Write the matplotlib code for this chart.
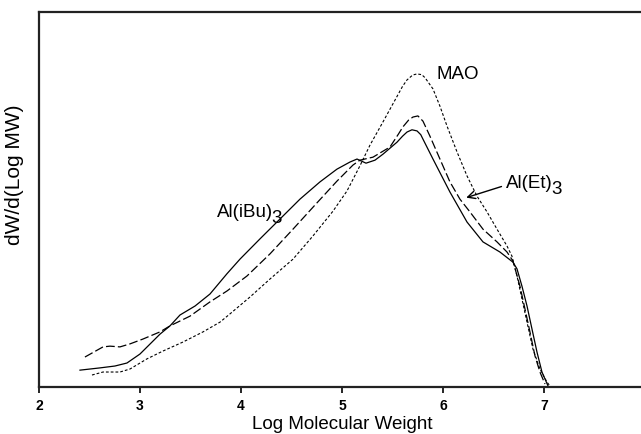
import numpy as np
import matplotlib
matplotlib.use("Agg")
import matplotlib.pyplot as plt

plt.rcParams['font.family'] = ['Liberation Sans', 'DejaVu Sans']

# Al(iBu)3 - solid
ibu_x = [2.406, 2.604, 2.752, 2.871, 3.000, 3.198, 3.297, 3.396, 3.545, 3.693,
         3.861, 3.990, 4.188, 4.386, 4.584, 4.782, 4.950, 5.079, 5.149, 5.238,
         5.327, 5.406, 5.545, 5.600, 5.644, 5.693, 5.743, 5.780, 5.802, 5.901,
         6.069, 6.238, 6.396, 6.564, 6.693, 6.733, 6.782, 6.832, 6.881, 6.931,
         6.980, 7.040]
ibu_y = [4.5, 5.1, 5.6, 6.4, 8.8, 14.1, 16.3, 19.2, 21.6, 24.8,
         30.2, 34.1, 39.5, 44.8, 50.1, 54.7, 58.1, 60.0, 60.8, 59.7,
         60.5, 62.1, 65.3, 66.9, 68.0, 68.6, 68.3, 67.3, 66.1, 60.8,
         52.0, 44.0, 38.7, 36.0, 33.3, 31.5, 26.9, 21.6, 15.5, 9.3,
         4.0, 0.3]

# Al(Et)3 - long dash
et_x = [2.455, 2.634, 2.703, 2.802, 2.901, 3.030, 3.198, 3.297, 3.495, 3.693,
        3.861, 4.059, 4.287, 4.515, 4.752, 4.950, 5.109, 5.178, 5.307, 5.475,
        5.560, 5.604, 5.660, 5.703, 5.752, 5.802, 5.871, 5.970, 6.069, 6.168,
        6.267, 6.396, 6.535, 6.634, 6.693, 6.762, 6.812, 6.861, 6.911, 6.960,
        7.010]
et_y = [8.0, 10.7, 10.9, 10.7, 11.5, 12.8, 14.7, 16.3, 18.9, 22.7,
        25.6, 29.6, 35.5, 42.1, 49.1, 54.9, 59.2, 60.5, 61.3, 64.0,
        67.5, 69.4, 71.2, 72.0, 72.3, 70.9, 66.9, 60.8, 54.7, 50.1,
        46.7, 42.1, 38.7, 36.0, 33.6, 26.9, 20.8, 14.7, 8.3, 4.0,
        0.8]

# MAO - short dash
mao_x = [2.525, 2.634, 2.802, 2.901, 3.069, 3.228, 3.426, 3.624, 3.792, 3.891,
         4.089, 4.287, 4.515, 4.713, 4.911, 5.050, 5.178, 5.277, 5.406, 5.545,
         5.600, 5.644, 5.700, 5.743, 5.790, 5.822, 5.901, 5.970, 6.040, 6.139,
         6.238, 6.337, 6.436, 6.535, 6.634, 6.683, 6.733, 6.782, 6.832, 6.891,
         6.960, 7.030, 7.059]
mao_y = [3.2, 4.0, 4.0, 4.8, 7.5, 9.6, 12.0, 14.7, 17.3, 19.5,
         24.0, 28.8, 34.1, 40.3, 46.9, 52.3, 59.0, 64.5, 70.7, 77.5,
         80.2, 81.9, 83.2, 83.5, 83.3, 82.5, 79.5, 74.9, 69.6, 62.7,
         56.3, 50.9, 46.7, 42.1, 37.6, 34.9, 29.6, 23.5, 17.3, 10.1,
         4.8, 1.3, 0.3]

x_ticks = [2, 3, 4, 5, 6, 7, 8]

fig = plt.figure(figsize=(6.41, 4.35), dpi=100)
ax = fig.add_axes([0.0608, 0.108, 0.9454, 0.862])

ax.plot(ibu_x, ibu_y, color='black', lw=0.9, ls='-')
ax.plot(et_x, et_y, color='black', lw=0.9, ls=(0, (7, 2.5)))
ax.plot(mao_x, mao_y, color='black', lw=0.8, ls=(0, (2.5, 1.8)))

ax.set_xlim(2, 8)
ax.set_ylim(0, 100)
ax.set_xticks(x_ticks)
ax.set_xticklabels([str(t) for t in x_ticks], fontweight='bold', fontsize=10)
ax.set_yticks([])
ax.tick_params(axis='x', direction='out', length=4, width=1.2, pad=4)

for s in ['left', 'top', 'bottom']:
    ax.spines[s].set_linewidth(1.6)
    ax.spines[s].set_color('#222222')
ax.spines['right'].set_visible(False)

ax.set_xlabel('Log Molecular Weight', fontsize=13.5, labelpad=2)
ax.set_ylabel('dW/d(Log MW)', fontsize=15)
ax.yaxis.set_label_coords(-0.024, 0.57)

fs = 13.5
ax.text(5.94, 83.5, 'MAO', fontsize=fs, ha='left', va='center')
t_ibu = ax.text(3.76, 45.6, 'Al(iBu)', fontsize=fs, ha='left', va='baseline')
t_et = ax.annotate('Al(Et)', xy=(6.23, 50.5), xytext=(6.62, 53.3),
                   fontsize=fs, ha='left', va='baseline',
                   arrowprops=dict(arrowstyle='->', color='black', lw=1.0,
                                   shrinkA=1, shrinkB=0,
                                   relpos=(0.0, 0.35)))

# full-size lowered "3" after each formula
fig.canvas.draw()
for t, base in [(t_ibu, 45.6), (t_et, 53.3)]:
    bb = t.get_window_extent()
    ax.annotate('3', xy=(bb.x1, base), xycoords=('figure pixels', 'data'),
                xytext=(-1.0, -4), textcoords='offset points',
                fontsize=fs, ha='left', va='baseline')

fig.savefig('out.png', dpi=100)
